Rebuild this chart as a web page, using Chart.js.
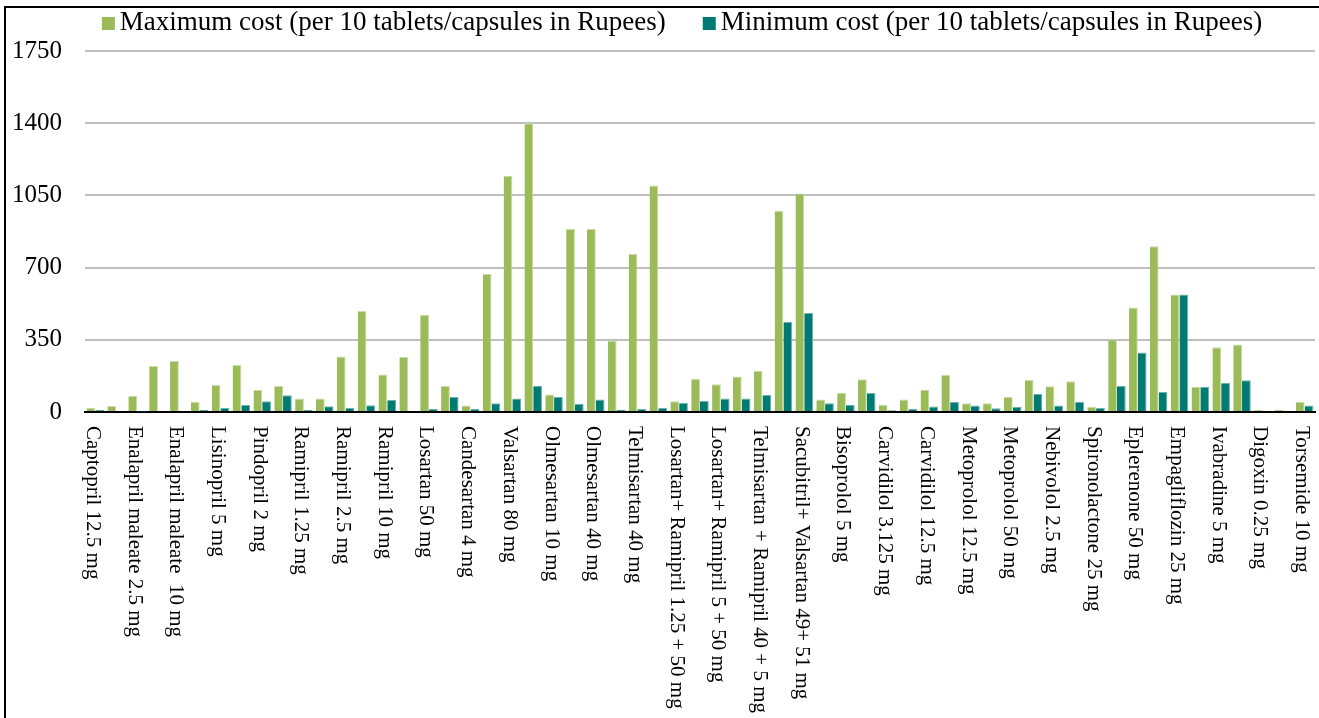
<!DOCTYPE html>
<html>
<head>
<meta charset="utf-8">
<script src="https://cdn.jsdelivr.net/npm/chart.js@4"></script>
<style>
  html, body { margin: 0; padding: 0; background: #ffffff; }
  canvas { display: block; }
</style>
</head>
<body>
<canvas id="costChart" width="1319" height="718"></canvas>
<script>
// Drug / strength categories. Every second category name is not printed on the axis.
const categories = [
  'Captopril 12.5 mg', '',
  'Enalapril maleate 2.5 mg', '',
  'Enalapril maleate  10 mg', '',
  'Lisinopril 5 mg', '',
  'Pindopril 2 mg', '',
  'Ramipril 1.25 mg', '',
  'Ramipril 2.5 mg', '',
  'Ramipril 10 mg', '',
  'Losartan 50 mg', '',
  'Candesartan 4 mg', '',
  'Valsartan 80 mg', '',
  'Olmesartan 10 mg', '',
  'Olmesartan 40 mg', '',
  'Telmisartan 40 mg', '',
  'Losartan+ Ramipril 1.25 + 50 mg', '',
  'Losartan+ Ramipril 5 + 50 mg', '',
  'Telmisartan + Ramipril 40 + 5 mg', '',
  'Sacubitril+ Valsartan 49+ 51 mg', '',
  'Bisoprolol 5 mg', '',
  'Carvidilol 3.125 mg', '',
  'Carvidilol 12.5 mg', '',
  'Metoprolol 12.5 mg', '',
  'Metoprolol 50 mg', '',
  'Nebivolol 2.5 mg', '',
  'Spironolactone 25 mg', '',
  'Eplerenone 50 mg', '',
  'Empagliflozin 25 mg', '',
  'Ivabradine 5 mg', '',
  'Digoxin 0.25 mg', '',
  'Torsemide 10 mg'
];

// Cost per 10 tablets/capsules, in Rupees
const maxCost = [
  20, 29, 77, 223, 249, 50, 132, 228, 107, 127,
  65, 65, 269, 490, 182, 267, 471, 126, 31, 669,
  1145, 1400, 85, 887, 887, 345, 766, 1098, 52, 160,
  135, 172, 200, 975, 1059, 61, 93, 159, 35, 60,
  108, 179, 42, 42, 74, 155, 125, 149, 26, 352,
  506, 804, 569, 123, 314, 327, 10, 11, 50
];
const minCost = [
  10, 5, 3, 5, 6, 10, 21, 34, 52, 81,
  10, 28, 20, 33, 59, 6, 15, 74, 15, 42,
  65, 127, 73, 40, 60, 11, 15, 21, 44, 53,
  66, 66, 82, 436, 480, 43, 35, 92, 8, 16,
  27, 50, 31, 18, 26, 87, 31, 50, 19, 126,
  288, 97, 569, 123, 142, 154, 6, 6, 32
];

const seriesNames = [
  'Maximum cost (per 10 tablets/capsules in Rupees)',
  'Minimum cost (per 10 tablets/capsules in Rupees)'
];
const seriesColors = ['#9bbb59', '#007a72'];
const seriesEdges = ['#c9dba6', '#6cb3ad'];
const yTicks = [0, 350, 700, 1050, 1400, 1750];

const SERIF = '"Liberation Serif", "Times New Roman", serif';

// Small square legend marker, drawn close to its text
function legendMarker(color) {
  const c = document.createElement('canvas');
  c.width = 30;
  c.height = 13;
  const g = c.getContext('2d');
  g.fillStyle = color;
  g.fillRect(11, 0, 13, 13);
  return c;
}
const legendMarkers = seriesColors.map(legendMarker);

// Outer frame lines along the left and top edges
const framePlugin = {
  id: 'frame',
  afterDraw(chart) {
    const ctx = chart.ctx;
    ctx.save();
    ctx.strokeStyle = '#000000';
    ctx.lineWidth = 2;
    ctx.beginPath();
    ctx.moveTo(5, chart.height + 5);
    ctx.lineTo(5, 7);
    ctx.lineTo(chart.width + 5, 7);
    ctx.stroke();
    ctx.restore();
  }
};

// Category names written downwards from the axis line
const downLabelsPlugin = {
  id: 'downLabels',
  afterDraw(chart) {
    const xs = chart.scales.x;
    const ctx = chart.ctx;
    ctx.save();
    ctx.font = '21px ' + SERIF;
    ctx.fillStyle = '#000000';
    ctx.textAlign = 'left';
    ctx.textBaseline = 'middle';
    categories.forEach((name, i) => {
      if (!name) return;
      const px = xs.getPixelForValue(i) - 3;
      ctx.save();
      ctx.translate(px, xs.top + 14);
      ctx.rotate(Math.PI / 2);
      ctx.fillText(name, 0, 0);
      ctx.restore();
    });
    ctx.restore();
  }
};

// Fixed legend band height and horizontal span
const legendBandPlugin = {
  id: 'legendBand',
  beforeUpdate(chart) {
    const lg = chart.legend;
    if (lg && !lg._bandPatched) {
      const fit = lg.fit;
      lg.fit = function () {
        fit.call(this);
        this.height = 82;
      };
      lg._bandPatched = true;
    }
  },
  afterLayout(chart) {
    if (chart.legend) {
      chart.legend.left = 52.5;
    }
  }
};

new Chart(document.getElementById('costChart'), {
  type: 'bar',
  data: {
    labels: categories,
    datasets: [
      {
        label: seriesNames[0],
        data: maxCost,
        backgroundColor: seriesColors[0],
        borderColor: seriesEdges[0],
        borderWidth: { top: 1, right: 1, left: 0, bottom: 0 },
        borderSkipped: 'start',
        categoryPercentage: 0.84,
        barPercentage: 1.0
      },
      {
        label: seriesNames[1],
        data: minCost,
        backgroundColor: seriesColors[1],
        borderColor: seriesEdges[1],
        borderWidth: { top: 1, right: 1, left: 0, bottom: 0 },
        borderSkipped: 'start',
        categoryPercentage: 0.84,
        barPercentage: 1.0
      }
    ]
  },
  options: {
    responsive: false,
    animation: false,
    layout: { padding: { left: 5, right: 4, top: -31, bottom: 0 } },
    plugins: {
      legend: {
        display: true,
        position: 'top',
        align: 'center',
        labels: {
          color: '#000000',
          font: { family: SERIF, size: 27 },
          usePointStyle: true,
          boxWidth: 1,
          boxHeight: 13,
          padding: 40.5,
          generateLabels(chart) {
            const items = Chart.defaults.plugins.legend.labels.generateLabels(chart);
            items.forEach(it => { it.pointStyle = legendMarkers[it.datasetIndex]; });
            return items;
          }
        }
      },
      tooltip: { enabled: false },
      title: { display: false }
    },
    scales: {
      x: {
        type: 'category',
        offset: true,
        grid: { display: false, drawTicks: false },
        border: { display: true, color: '#000000', width: 2 },
        ticks: { display: false },
        afterFit(scale) { scale.height = 306; }
      },
      y: {
        min: 0,
        max: 1750,
        afterBuildTicks(scale) { scale.ticks = yTicks.map(v => ({ value: v })); },
        grid: {
          drawTicks: false,
          color: ctx => (ctx.tick && ctx.tick.value === 0) ? '#000000' : '#bfbfbf',
          lineWidth: 2
        },
        border: { display: false },
        ticks: {
          color: '#000000',
          font: { family: SERIF, size: 25 },
          padding: 23,
          callback: value => String(value)
        },
        afterFit(scale) { scale.width = 80; }
      }
    }
  },
  plugins: [framePlugin, downLabelsPlugin, legendBandPlugin]
});
</script>
</body>
</html>
